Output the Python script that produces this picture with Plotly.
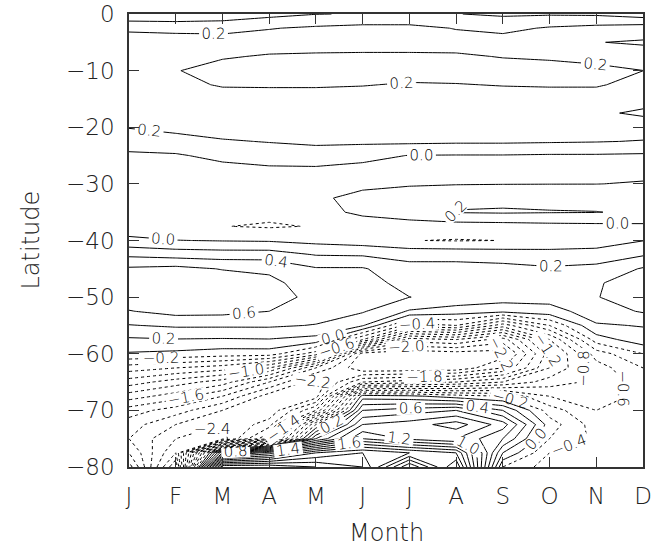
import plotly.graph_objects as go

month_labels = ["J", "F", "M", "A", "M", "J", "J", "A", "S", "O", "N", "D"]
month_pos = list(range(12))
lat_ticks = [0, -10, -20, -30, -40, -50, -60, -70, -80]

latitudes = [0, -2.5, -5, -7.5, -10, -12.5, -15, -17.5, -20, -22.5, -25, -27.5,
             -30, -32.5, -35, -37.5, -40, -42.5, -45, -47.5, -50, -52.5, -55,
             -57.5, -60, -62.5, -65, -67.5, -70, -72.5, -75, -77.5, -80]

# one row per latitude, 12 monthly values (J..D)
z_rows = [
    [-0.14, -0.15, -0.12, -0.06, -0.005, 0.01, 0.01, 0.005, -0.03, -0.02, -0.03, -0.1],
    [0.14, 0.13, 0.13, 0.19, 0.23, 0.26, 0.26, 0.19, 0.15, 0.22, 0.26, 0.3],
    [0.36, 0.32, 0.3, 0.3, 0.29, 0.3, 0.3, 0.29, 0.28, 0.26, 0.205, 0.18],
    [0.3, 0.28, 0.22, 0.18, 0.17, 0.16, 0.16, 0.17, 0.21, 0.23, 0.26, 0.28],
    [0.24, 0.21, 0.12, 0.1, 0.1, 0.1, 0.1, 0.1, 0.11, 0.12, 0.15, 0.199],
    [0.28, 0.26, 0.18, 0.17, 0.17, 0.19, 0.22, 0.21, 0.19, 0.18, 0.18, 0.27],
    [0.33, 0.31, 0.3, 0.32, 0.32, 0.3, 0.3, 0.3, 0.3, 0.3, 0.3, 0.33],
    [0.35, 0.33, 0.32, 0.33, 0.33, 0.33, 0.33, 0.33, 0.33, 0.34, 0.37, 0.43],
    [0.21, 0.26, 0.3, 0.31, 0.32, 0.32, 0.32, 0.32, 0.32, 0.31, 0.31, 0.3],
    [0.08, 0.12, 0.18, 0.21, 0.24, 0.24, 0.24, 0.23, 0.23, 0.22, 0.21, 0.19],
    [-0.03, -0.02, 0.05, 0.08, 0.1, 0.05, -0.005, -0.01, -0.01, -0.02, -0.02, -0.03],
    [-0.06, -0.06, -0.06, -0.03, -0.03, -0.05, -0.04, -0.04, -0.04, -0.04, -0.04, -0.04],
    [-0.08, -0.08, -0.09, -0.06, -0.04, -0.04, -0.02, -0.01, -0.005, -0.003, -0.002, 0.01],
    [-0.1, -0.1, -0.11, -0.1, -0.03, 0.05, 0.1, 0.15, 0.15, 0.14, 0.12, 0.1],
    [-0.12, -0.13, -0.14, -0.15, -0.05, 0.03, 0.12, 0.21, 0.22, 0.21, 0.205, 0.17],
    [-0.15, -0.16, -0.195, -0.22, -0.19, -0.08, -0.1, -0.09, -0.08, -0.06, -0.05, -0.04],
    [0.06, 0.005, -0.01, -0.02, -0.06, -0.1, -0.195, -0.21, -0.198, -0.17, -0.12, -0.005],
    [0.36, 0.32, 0.3, 0.3, 0.19, 0.18, 0.15, 0.14, 0.12, 0.1, 0.1, 0.18],
    [0.63, 0.66, 0.59, 0.57, 0.42, 0.42, 0.25, 0.26, 0.25, 0.22, 0.25, 0.42],
    [0.7, 0.74, 0.72, 0.64, 0.52, 0.48, 0.33, 0.3, 0.3, 0.28, 0.38, 0.5],
    [0.72, 0.75, 0.73, 0.66, 0.56, 0.45, 0.402, 0.35, 0.3, 0.28, 0.39, 0.52],
    [0.59, 0.67, 0.66, 0.6, 0.5, 0.42, 0.18, 0.1, 0.05, 0.12, 0.3, 0.42],
    [0.39, 0.43, 0.43, 0.43, 0.39, 0.22, -0.5, -0.4, -0.9, -0.4, 0.18, 0.21],
    [0.17, 0.19, 0.18, 0.19, 0.13, -0.6, -1.7, -1.6, -1.9, -1.0, -0.1, 0.12],
    [-0.02, -0.05, -0.1, -0.1, -0.5, -2.3, -2.35, -2.3, -2.3, -1.3, -0.5, -0.2],
    [-0.5, -0.6, -0.7, -1.0, -1.8, -2.38, -2.38, -2.35, -2.0, -1.2, -0.7, -0.4],
    [-0.9, -1.1, -1.3, -1.8, -2.35, -1.6, -1.5, -1.4, -1.2, -0.9, -0.75, -0.5],
    [-1.3, -1.5, -1.8, -2.3, -2.3, 0.1, 0.05, -0.1, -0.2, -0.6, -0.7, -0.55],
    [-1.7, -1.9, -2.2, -2.35, -1.6, 0.6, 0.7, 0.8, 0.4, -0.3, -0.6, -0.5],
    [-1.9, -2.2, -2.4, -2.1, -0.2, 1.0, 1.1, 1.3, 0.9, -0.1, -0.5, -0.45],
    [-2.0, -2.4, -2.5, -1.6, 0.6, 1.4, 1.15, 1.0, 0.6, -0.2, -0.45, -0.4],
    [-1.8, -2.6, 1.0, 1.5, 2.2, 2.4, 2.2, 2.0, 0.2, -0.4, -0.4, -0.5],
    [-1.5, -3.0, 3.0, 3.0, 2.8, 2.6, 1.4, 2.4, -0.2, -0.5, -0.4, -0.6],
]

neg_levels = dict(start=-3.0, end=-0.2, size=0.2)
pos_levels = dict(start=0.0, end=3.0, size=0.2)

FONT = "DejaVu Sans"
black = [[0, "black"], [1, "black"]]
label_font = dict(family=FONT, size=15, color="black", weight=200)

fig = go.Figure()
fig.add_trace(go.Contour(
    x=month_pos, y=latitudes, z=z_rows,
    autocontour=False,
    contours=dict(coloring="lines", showlabels=True, labelformat=".1f",
                  labelfont=label_font, **neg_levels),
    colorscale=black, showscale=False,
    line=dict(width=1, dash="3px,3px", smoothing=0),
    hoverinfo="skip",
))
fig.add_trace(go.Contour(
    x=month_pos, y=latitudes, z=z_rows,
    autocontour=False,
    contours=dict(coloring="lines", showlabels=True, labelformat=".1f",
                  labelfont=label_font, **pos_levels),
    colorscale=black, showscale=False,
    line=dict(width=1, smoothing=0),
    hoverinfo="skip",
))

axis_common = dict(showline=True, linecolor="#333", linewidth=1.5, mirror="ticks",
                   ticks="inside", ticklen=10, tickcolor="#333", showgrid=False,
                   zeroline=False, automargin=False,
                   tickfont=dict(family=FONT, size=23, color="#222", weight=200))

fig.update_xaxes(range=[0, 11], tickvals=month_pos, ticktext=month_labels,
                 ticklabelstandoff=8, **axis_common)
fig.update_yaxes(range=[-80, 0], tickvals=lat_ticks, ticklabelstandoff=8,
                 **axis_common)

fig.add_annotation(text="Month", x=0.5, y=-0.145, xref="paper", yref="paper",
                   showarrow=False, xanchor="center", yanchor="middle",
                   font=dict(family=FONT, size=24, color="#222", weight=200))
fig.add_annotation(text="Latitude", x=-0.1926, y=0.5, xref="paper", yref="paper",
                   showarrow=False, xanchor="center", yanchor="middle", textangle=-90,
                   font=dict(family=FONT, size=24, color="#222", weight=200))

fig.update_layout(width=658, height=546, margin=dict(l=129, r=15, t=13.5, b=79, autoexpand=False),
                  plot_bgcolor="white", paper_bgcolor="white", showlegend=False)

fig.write_html("out.html", config={"displayModeBar": False},
               post_script="document.body.style.margin='0';document.body.style.padding='0';document.body.style.overflow='hidden';")
